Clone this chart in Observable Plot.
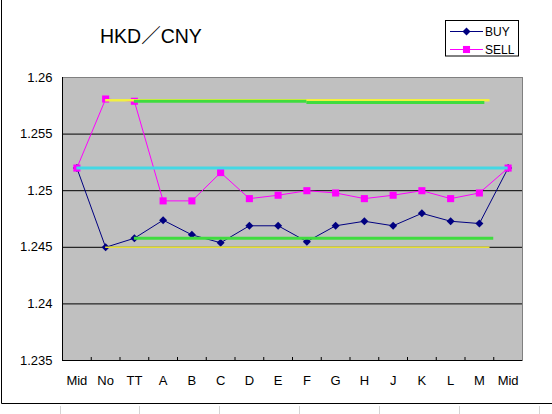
<!DOCTYPE html>
<html>
<head>
<meta charset="utf-8">
<script src="https://cdn.jsdelivr.net/npm/d3@7"></script>
<script src="https://cdn.jsdelivr.net/npm/@observablehq/plot@0.6"></script>
<style>
  html, body { margin: 0; padding: 0; background: #fff; }
  #chart { width: 552px; height: 414px; }
</style>
</head>
<body>
<div id="chart"></div>
<script>
// ---- data ----
const categories = ["Mid","No","TT","A","B","C","D","E","F","G","H","J","K","L","M","Mid"];
const buy  = [1.2520,1.2450,1.2458,1.2474,1.2461,1.2454,1.2469,1.2469,1.2455,1.2469,1.2473,1.2469,1.2480,1.2473,1.2471,1.2520];
const sell = [1.2520,1.2581,1.2579,1.2491,1.2491,1.2516,1.2493,1.2496,1.2500,1.2498,1.2493,1.2496,1.2500,1.2493,1.2498,1.2520];
const yTicks = [1.235,1.24,1.245,1.25,1.255,1.26];
const seriesNames = ["BUY","SELL"];
const title = "HKD／CNY";
// reference levels: [from category index, to category index, value]
const midLine      = [{from:0, to:15,    value:1.2520}];
const topYellow    = [{from:1, to:14.37, value:1.2580}];
const topGreen     = [{from:2, to:8,     value:1.2579},{from:8, to:14.19, value:1.2578}];
const bottomGreen  = [{from:2, to:14.5,  value:1.2458}];
const bottomYellow = [{from:1, to:14.37, value:1.2450}];

const buyData  = buy.map((v,i) => ({i, v}));
const sellData = sell.map((v,i) => ({i, v}));
const boundaries = d3.range(0.5, 15, 1);
const fmt = d => String(+d.toFixed(3));

const plot = Plot.plot({
  width: 552, height: 414,
  marginLeft: 62, marginRight: 30, marginTop: 77, marginBottom: 54,
  style: {fontFamily: "'Liberation Sans', Arial, sans-serif", fontSize: "13px", background: "white", overflow: "visible"},
  x: {domain: [-0.5, 15.5]},
  y: {domain: [1.235, 1.26]},
  marks: [
    Plot.frame({fill: "#c0c0c0", stroke: "#808080"}),
    Plot.ruleY(yTicks.slice(1, -1), {stroke: "#000", strokeWidth: 1}),
    Plot.ruleY([1.235], {stroke: "#000"}),
    Plot.ruleX([-0.5], {stroke: "#000"}),
    Plot.axisX({ticks: boundaries, tickSize: 3, dy: -3, tickFormat: () => "", label: null, stroke: "#000"}),
    Plot.axisX({ticks: d3.range(categories.length), tickSize: 0, tickPadding: 15, tickFormat: i => categories[i], label: null, fill: "#000"}),
    Plot.axisY({ticks: yTicks, tickSize: 0, tickPadding: 10, tickFormat: fmt, label: null, fill: "#000"}),
    Plot.line(buyData, {x: "i", y: "v", stroke: "#000080", strokeWidth: 1}),
    Plot.line(sellData, {x: "i", y: "v", stroke: "#ff00ff", strokeWidth: 1}),
    Plot.dot(buyData, {x: "i", y: "v", symbol: "diamond2", r: 3.6, fill: "#000080", stroke: "none"}),
    Plot.dot(sellData, {x: "i", y: "v", symbol: "square", r: 4, fill: "#ff00ff", stroke: "none"}),
    Plot.ruleY(midLine, {x1: "from", x2: "to", y: "value", stroke: "#44d8e4", strokeWidth: 3}),
    Plot.ruleY(topYellow, {x1: "from", x2: "to", y: "value", stroke: "#f2f040", strokeWidth: 2.5}),
    Plot.ruleY(topGreen, {x1: "from", x2: "to", y: "value", stroke: "#3fdc3f", strokeWidth: 3}),
    Plot.ruleY(bottomGreen, {x1: "from", x2: "to", y: "value", stroke: "#3fdc3f", strokeWidth: 3}),
    Plot.ruleY(bottomYellow, {x1: "from", x2: "to", y: "value", stroke: "#e8e030", strokeWidth: 1.6})
  ]
});

const svg = d3.select(plot);
// chart border (left and bottom) and faint sheet grid below
svg.append("line").attr("x1", 1.5).attr("x2", 1.5).attr("y1", 0).attr("y2", 403.5).attr("stroke", "#000");
svg.append("line").attr("x1", 1.5).attr("x2", 552).attr("y1", 403.5).attr("y2", 403.5).attr("stroke", "#000");
[60,139,219,299,379,459,539].forEach(x => {
  svg.append("line").attr("x1", x + 0.5).attr("x2", x + 0.5).attr("y1", 406).attr("y2", 414).attr("stroke", "#d4d4d4");
});
// title
svg.append("text").attr("x", 100).attr("y", 43).attr("text-anchor", "start")
  .attr("font-family", "'Liberation Sans', 'Noto Sans CJK JP', Arial, sans-serif")
  .attr("font-size", 19.5).attr("fill", "#000").text(title);
// legend
const lg = svg.append("g");
lg.append("rect").attr("x", 445.5).attr("y", 20.5).attr("width", 73).attr("height", 35.5)
  .attr("fill", "#fff").attr("stroke", "#000");
const lgColors = ["#000080", "#ff00ff"];
const lgSymbols = [d3.symbolDiamond2, d3.symbolSquare];
const lgSizes = [Math.PI * 3.6 * 3.6, Math.PI * 16];
seriesNames.forEach((name, k) => {
  const cy = 31.5 + k * 18;
  lg.append("line").attr("x1", 450).attr("x2", 483).attr("y1", cy).attr("y2", cy).attr("stroke", lgColors[k]);
  lg.append("path").attr("d", d3.symbol(lgSymbols[k], lgSizes[k])()).attr("transform", `translate(466.5,${cy})`).attr("fill", lgColors[k]);
  lg.append("text").attr("x", 485).attr("y", cy).attr("dy", "0.36em").attr("text-anchor", "start")
    .attr("font-family", "'Liberation Sans', Arial, sans-serif").attr("font-size", 12).attr("fill", "#000").text(name);
});

document.getElementById("chart").appendChild(plot);
</script>
</body>
</html>
